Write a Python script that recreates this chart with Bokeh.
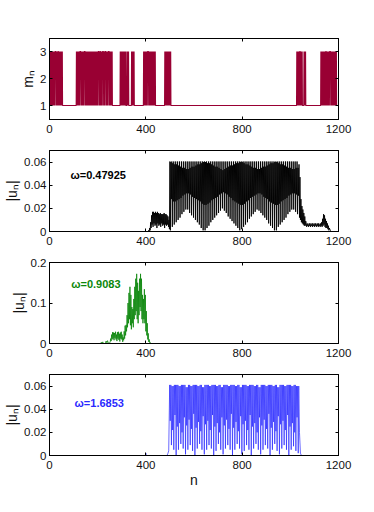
import numpy as np
from bokeh.plotting import figure
from bokeh.layouts import column
from bokeh.models import Range1d, FixedTicker, LinearAxis, Label
from bokeh.embed import file_html
from bokeh.resources import INLINE

# ---------------- data ----------------
x_ticks = [0, 400, 800, 1200]
x_tick_labels = ["0", "400", "800", "1200"]

# panel 1: m_n (1 or 3); blocks of rapid 1/3 switching, and light streaks inside them
m_ticks = [1, 2, 3]
m_tick_labels = ["1", "2", "3"]
m3_blocks = [(1, 53), (112, 260), (294, 316), (322, 329), (341, 352), (391, 439),
             (479, 504), (1027, 1049), (1057, 1063), (1127, 1192)]
m3_streaks = [25, 36, 128, 146, 204, 211, 222, 232, 246, 409, 1040, 1148, 1165]

# panel 2: |u_n|, omega = 0.47925
u2_ticks = [0, 0.02, 0.04, 0.06]
u2_tick_labels = ["0", "0.02", "0.04", "0.06"]
u2_left_n = [0, 408, 412, 414, 416, 418, 420, 422, 424, 426, 428, 430, 432, 434, 436, 438,
             440, 442, 444, 446, 448, 450, 452, 454, 456, 458, 460, 462, 464, 466, 468, 470,
             472, 474, 476, 478, 480, 482, 484, 486, 488, 490, 492, 494, 496, 498]
u2_left_v = [0, 0, 0.001, 0.0, 0.003, 0.001, 0.008, 0.003, 0.014, 0.006, 0.017, 0.004, 0.017,
             0.007, 0.016, 0.005, 0.017, 0.006, 0.016, 0.003, 0.017, 0.007, 0.016, 0.005,
             0.015, 0.006, 0.016, 0.004, 0.015, 0.007, 0.015, 0.005, 0.015, 0.006, 0.016,
             0.003, 0.015, 0.006, 0.015, 0.005, 0.014, 0.006, 0.013, 0.004, 0.010, 0.002]
u2_core_start = 500
u2_core_peak = 0.0605
u2_core_light = [0.001, 0.004, 0.006, 0.008, 0.010, 0.012, 0.015, 0.017, 0.019, 0.019, 0.016,
                 0.014, 0.012, 0.010, 0.008, 0.006, 0.003, 0.001,
                 0.001, 0.003, 0.005, 0.008, 0.010, 0.012, 0.014, 0.016, 0.018, 0.020, 0.018,
                 0.016, 0.013, 0.011, 0.009, 0.007, 0.005, 0.003, 0.001,
                 0.002, 0.004, 0.006, 0.008, 0.011, 0.013, 0.015, 0.017, 0.019, 0.018, 0.016,
                 0.014, 0.012, 0.010, 0.007, 0.005, 0.003, 0.001,
                 0.001, 0.004, 0.006, 0.008, 0.010, 0.012, 0.015, 0.017, 0.019, 0.019, 0.017,
                 0.015]
u2_core_dark = [0.028, 0.026, 0.026, 0.027, 0.028, 0.029, 0.031, 0.032, 0.033, 0.033, 0.032,
                0.030, 0.029, 0.028, 0.027, 0.026, 0.024, 0.023,
                0.023, 0.024, 0.025, 0.027, 0.028, 0.029, 0.030, 0.032, 0.033, 0.034, 0.033,
                0.032, 0.030, 0.029, 0.027, 0.026, 0.025, 0.024, 0.023,
                0.023, 0.024, 0.026, 0.027, 0.029, 0.030, 0.031, 0.032, 0.033, 0.033, 0.032,
                0.030, 0.029, 0.028, 0.026, 0.025, 0.024, 0.023,
                0.023, 0.024, 0.026, 0.027, 0.028, 0.029, 0.031, 0.032, 0.033, 0.033, 0.032,
                0.031]
u2_core_top = [0.060, 0.059, 0.058, 0.058, 0.057, 0.056, 0.055, 0.055, 0.054, 0.054, 0.055,
               0.056, 0.056, 0.057, 0.058, 0.058, 0.059, 0.060,
               0.060, 0.059, 0.059, 0.058, 0.057, 0.056, 0.056, 0.055, 0.054, 0.053, 0.054,
               0.055, 0.056, 0.057, 0.057, 0.058, 0.059, 0.059, 0.060,
               0.060, 0.059, 0.058, 0.058, 0.057, 0.056, 0.055, 0.055, 0.054, 0.054, 0.055,
               0.056, 0.056, 0.057, 0.058, 0.059, 0.059, 0.060,
               0.060, 0.059, 0.058, 0.058, 0.057, 0.056, 0.055, 0.055, 0.054, 0.054, 0.055,
               0.055]
u2_right_n = ([1036, 1038, 1040, 1042, 1044, 1046, 1048, 1050, 1052, 1054, 1056, 1058, 1060,
               1062, 1064] + list(range(1066, 1131, 2)) +
              [1132, 1134, 1136, 1138, 1140, 1142, 1144, 1146, 1148, 1150, 1152, 1154, 1156,
               1158, 1160, 1162, 1166, 1170, 1200])
u2_right_v = [0.058, 0.012, 0.047, 0.010, 0.028, 0.008, 0.022, 0.007, 0.019, 0.006, 0.016,
              0.005, 0.013, 0.005, 0.009,
              0.007, 0.004, 0.007, 0.005, 0.006, 0.004, 0.007, 0.005, 0.007, 0.004, 0.006,
              0.005, 0.007, 0.004, 0.007, 0.005, 0.006, 0.004, 0.007, 0.005, 0.007, 0.004,
              0.006, 0.005, 0.007, 0.004, 0.007, 0.005, 0.006, 0.004, 0.007, 0.005, 0.008,
              0.004, 0.011, 0.005, 0.015, 0.006, 0.014, 0.004, 0.011, 0.003, 0.009, 0.003,
              0.007, 0.002, 0.005, 0.001, 0.003, 0.001, 0.0, 0.0]

# panel 3: |u_n|, omega = 0.9083
u3_ticks = [0, 0.1, 0.2]
u3_tick_labels = ["0", "0.1", "0.2"]
u3_points = [(0, 0), (212, 0), (215, 0.003), (218, 0.001), (221, 0.004), (224, 0), (232, 0),
             (235, 0.006), (238, 0.002), (241, 0.007), (244, 0.001), (248, 0), (252, 0.004),
             (254, 0.012), (256, 0.006), (258, 0.022), (260, 0.010), (262, 0.028), (264, 0.012),
             (266, 0.027), (268, 0.008), (270, 0.026), (272, 0.014), (274, 0.029), (276, 0.010),
             (278, 0.022), (280, 0.006), (282, 0.028), (284, 0.012), (286, 0.029), (288, 0.009),
             (290, 0.024), (292, 0.005), (294, 0.027), (296, 0.012), (298, 0.029), (300, 0.010),
             (302, 0.022), (304, 0.004), (306, 0.015), (308, 0.008), (310, 0.030), (312, 0.012),
             (314, 0.044), (316, 0.020), (318, 0.046), (320, 0.030), (322, 0.070), (324, 0.040),
             (326, 0.100), (328, 0.050), (330, 0.125), (332, 0.060), (334, 0.140), (336, 0.045),
             (338, 0.120), (340, 0.035), (342, 0.090), (344, 0.050), (346, 0.085), (348, 0.040),
             (350, 0.110), (352, 0.060), (354, 0.140), (356, 0.070), (358, 0.160), (360, 0.080),
             (362, 0.172), (364, 0.060), (366, 0.150), (368, 0.050), (370, 0.130), (372, 0.070),
             (374, 0.160), (376, 0.090), (378, 0.172), (380, 0.080), (382, 0.160), (384, 0.060),
             (386, 0.120), (388, 0.050), (390, 0.110), (392, 0.060), (394, 0.134), (396, 0.050),
             (398, 0.120), (400, 0.030), (402, 0.080), (404, 0.020), (406, 0.050), (408, 0.010),
             (410, 0.025), (412, 0.004), (414, 0.010), (416, 0.002), (418, 0.003), (422, 0),
             (1200, 0)]

# panel 4: |u_n|, omega = 1.6853
u4_ticks = [0, 0.02, 0.04, 0.06]
u4_tick_labels = ["0", "0.02", "0.04", "0.06"]
u4_left_n = [0, 398, 400, 402, 488, 492, 495]
u4_left_v = [0, 0, 0.002, 0, 0, 0.002, 0.004]
u4_stripe_start = 499
u4_stripe_step = 9.75
u4_top = [0.061, 0.060, 0.061, 0.061, 0.060, 0.061, 0.061, 0.059, 0.061, 0.060, 0.061,
          0.061, 0.060, 0.061, 0.059, 0.061, 0.061, 0.060, 0.061, 0.061, 0.060, 0.061,
          0.059, 0.061, 0.061, 0.060, 0.061, 0.061, 0.060, 0.061, 0.059, 0.061, 0.061,
          0.060, 0.061, 0.061, 0.060, 0.061, 0.059, 0.061, 0.061, 0.060, 0.061, 0.061,
          0.060, 0.061, 0.059, 0.061, 0.061, 0.060, 0.061, 0.061, 0.060, 0.061, 0.060]
u4_mid = [0.030, 0.022, 0.035, 0.025, 0.028, 0.020, 0.033, 0.026, 0.031, 0.023, 0.036,
          0.024, 0.029, 0.021, 0.034, 0.027, 0.030, 0.022, 0.035, 0.025, 0.028, 0.020,
          0.033, 0.026, 0.031, 0.023, 0.036, 0.024, 0.029, 0.021, 0.034, 0.027, 0.030,
          0.022, 0.035, 0.025, 0.028, 0.020, 0.033, 0.026, 0.031, 0.023, 0.036, 0.024,
          0.029, 0.021, 0.034, 0.027, 0.030, 0.022, 0.035, 0.025, 0.028, 0.020, 0.033]
u4_min = [0.009, 0.005, 0.000, 0.005, 0.010, 0.006, 0.001, 0.005, 0.009, 0.004, 0.000, 0.006,
          0.010, 0.005, 0.001, 0.005, 0.009, 0.006, 0.000, 0.004, 0.010, 0.005, 0.001, 0.006,
          0.009, 0.005, 0.000, 0.005, 0.010, 0.006, 0.001, 0.004, 0.009, 0.005, 0.000, 0.006,
          0.010, 0.005, 0.001, 0.005, 0.009, 0.006, 0.000, 0.005, 0.010, 0.004, 0.001, 0.006,
          0.009, 0.005, 0.000, 0.005, 0.008, 0.004, 0.002]
u4_right_n = [1035, 1038, 1042, 1046, 1200]
u4_right_v = [0.060, 0.020, 0.002, 0, 0]

omega_texts = ["ω=0.47925", "ω=0.9083", "ω=1.6853"]
omega_pos = [(87, 0.0486), (90, 0.147), (104, 0.0455)]
colors = ["#990033", "black", "#0b870b", "#2a2aff"]

# ---------------- assemble series ----------------
n_all = np.arange(0, 1201)
m_all = np.ones_like(n_all)
for a, b in m3_blocks:
    m_all[a:b + 1:2] = 3
for c in m3_streaks:
    m_all[c - 1:c + 2] = 3

core_n, core_v = [], []
for k in range(len(u2_core_light)):
    n0 = u2_core_start + 8 * k
    core_n += [n0, n0 + 2, n0 + 4, n0 + 6]
    core_v += [u2_core_peak, u2_core_light[k], u2_core_top[k], u2_core_dark[k]]
u2_n = u2_left_n + core_n + u2_right_n
u2_v = u2_left_v + core_v + u2_right_v

u3_n = [p[0] for p in u3_points]
u3_v = [p[1] for p in u3_points]

s_n, s_v = [], []
q = u4_stripe_step / 4
for k in range(len(u4_min)):
    s0 = u4_stripe_start + u4_stripe_step * k
    s_n += [s0, s0 + q, s0 + 2 * q, s0 + 3 * q]
    s_v += [u4_top[k], u4_mid[k], u4_top[k], u4_min[k]]
u4_n = u4_left_n + s_n + u4_right_n
u4_v = u4_left_v + s_v + u4_right_v

FONT = "Liberation Sans"


def make_fig(yrange, yticks, ylabels, ylabel, top_b, bottom_b, xlabel=None):
    p = figure(frame_width=289, frame_height=81,
               x_range=Range1d(0, 1200), y_range=Range1d(*yrange),
               output_backend="svg", toolbar_location=None,
               min_border_left=49, min_border_right=30,
               min_border_top=top_b, min_border_bottom=bottom_b)
    p.xgrid.visible = False
    p.ygrid.visible = False
    p.outline_line_color = "black"
    p.outline_line_width = 1
    p.background_fill_color = "white"
    p.border_fill_color = "white"

    for ax, ticks, labels in ((p.xaxis[0], x_ticks, x_tick_labels),
                              (p.yaxis[0], yticks, ylabels)):
        ax.ticker = FixedTicker(ticks=ticks)
        ax.major_label_overrides = {t: l for t, l in zip(ticks, labels)}
        ax.major_tick_in = 3
        ax.major_tick_out = 0
        ax.minor_tick_line_color = None
        ax.axis_line_color = "black"
        ax.major_tick_line_color = "black"
        ax.major_label_text_font = FONT
        ax.major_label_text_font_size = "11.5px"
        ax.major_label_text_color = "#111111"
        ax.axis_label_text_font = FONT
        ax.axis_label_text_font_style = "normal"
        ax.axis_label_text_color = "#111111"
        ax.axis_label_text_font_size = "14px"
    p.xaxis.major_label_standoff = 5
    p.yaxis.major_label_standoff = 3
    p.yaxis.axis_label = ylabel
    p.yaxis.axis_label_standoff = 1
    if xlabel:
        p.xaxis.axis_label = xlabel
        p.xaxis.axis_label_standoff = 0

    for loc, ticks in (("above", x_ticks), ("right", yticks)):
        ax = LinearAxis(ticker=FixedTicker(ticks=ticks),
                        major_label_overrides={t: "" for t in ticks},
                        major_tick_in=3, major_tick_out=0, major_label_standoff=0,
                        minor_tick_line_color=None, axis_line_color="black",
                        major_tick_line_color="black")
        p.add_layout(ax, loc)
    return p


p1 = make_fig((0.4815, 3.4815), m_ticks, m_tick_labels, "mₙ", 38, 21)
p1.line(n_all, m_all, line_color=colors[0], line_width=1.2)

p2 = make_fig((0, 0.07), u2_ticks, u2_tick_labels, "|uₙ|", 10, 21)
p2.line(u2_n, u2_v, line_color=colors[1], line_width=0.9)

p3 = make_fig((0, 0.2), u3_ticks, u3_tick_labels, "|uₙ|", 10, 21)
p3.line(u3_n, u3_v, line_color=colors[2], line_width=0.8)

p4 = make_fig((0, 0.07), u4_ticks, u4_tick_labels, "|uₙ|", 10, 40, xlabel="n")
p4.line(u4_n, u4_v, line_color=colors[3], line_width=0.7)

for p, txt, (tx, ty), col in zip((p2, p3, p4), omega_texts, omega_pos, colors[1:]):
    p.add_layout(Label(x=tx, y=ty, text=txt, text_font=FONT, text_font_size="11px",
                       text_font_style="bold", text_color=col, text_baseline="middle"))

layout = column(p1, p2, p3, p4, spacing=0)
open("out.html", "w").write(file_html(layout, INLINE))
